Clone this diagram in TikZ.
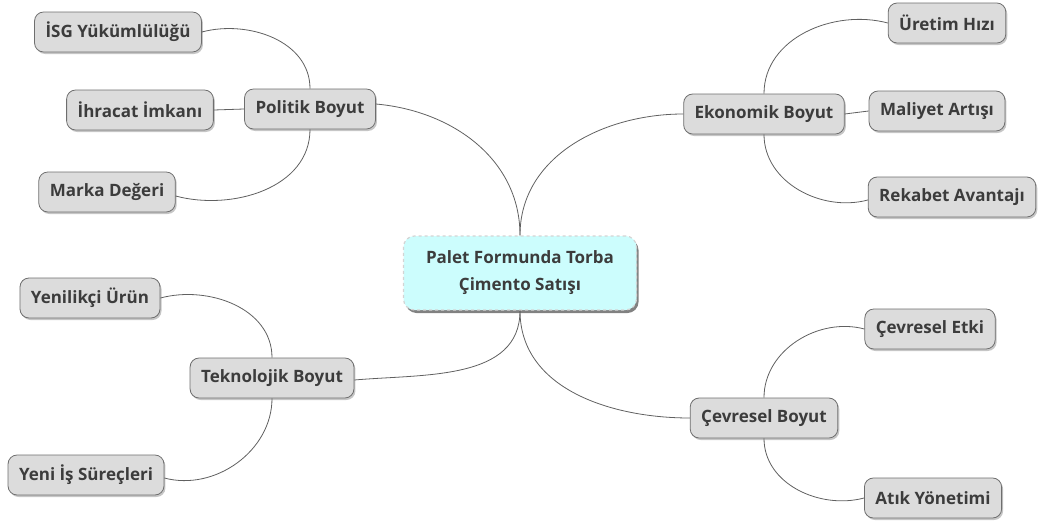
\documentclass[tikz,border=0pt]{standalone}
\usepackage{fontspec}
\setmainfont{Open Sans}
\usepackage{xcolor}
\usepackage{tikz}
\usetikzlibrary{shadows}
\definecolor{boxfill}{HTML}{DCDCDC}
\definecolor{boxline}{HTML}{6E6E6E}
\definecolor{boxtext}{HTML}{3C3C3C}
\definecolor{rootfill}{HTML}{CCFDFD}
\definecolor{rootline}{HTML}{D4D4D4}
\definecolor{wire}{HTML}{606060}

\begin{document}
\begin{tikzpicture}[
  x=1pt, y=1pt,
  font=\fontsize{17}{27}\selectfont\bfseries,
  topic/.style={draw=boxline, fill=boxfill, text=boxtext, rounded corners=9pt, line width=0.8pt,
    minimum height=40pt, inner xsep=11pt, align=center,
    drop shadow={shadow xshift=1.5pt, shadow yshift=-2pt, opacity=0.45, fill=gray}},
  root/.style={draw=rootline, dashed, fill=rootfill, text=boxtext, rounded corners=11pt, line width=1.2pt,
    minimum width=233pt, minimum height=74pt, align=center,
    drop shadow={shadow xshift=2pt, shadow yshift=-3pt, opacity=0.7, fill=black!70}},
  link/.style={draw=wire, line width=0.8pt}
]
\useasboundingbox (0,0) rectangle (1044,-522);

\node[root] (root) at (520,-273) {Palet Formunda Torba\\Çimento Satışı};

\node[topic] (pol) at (310,-109) {Politik Boyut};
\node[topic] (isg) at (118,-32) {İSG Yükümlülüğü};
\node[topic] (ihr) at (140,-110) {İhracat İmkanı};
\node[topic] (mrk) at (107,-192) {Marka Değeri};

\node[topic] (eko) at (764,-114) {Ekonomik Boyut};
\node[topic] (urt) at (947,-23) {Üretim Hızı};
\node[topic] (mal) at (937,-111) {Maliyet Artışı};
\node[topic] (rek) at (952,-197) {Rekabet Avantajı};

\node[topic] (tek) at (272,-378) {Teknolojik Boyut};
\node[topic] (yen) at (90,-298) {Yenilikçi Ürün};
\node[topic] (yis) at (86,-475) {Yeni İş Süreçleri};

\node[topic] (cev) at (764,-418) {Çevresel Boyut};
\node[topic] (cet) at (930,-329) {Çevresel Etki};
\node[topic] (atk) at (933,-498) {Atık Yönetimi};

\draw[link] (root.north) to[out=90, in=-5] ([yshift=5pt]pol.east);
\draw[link] (root.north) to[out=90, in=180] (eko.west);
\draw[link] (root.south) to[out=-90, in=5] ([yshift=-2pt]tek.east);
\draw[link] (root.south) to[out=-90, in=180] (cev.west);

\draw[link] (pol.north) to[out=90, in=15] (isg.east);
\draw[link] (pol.west) -- (ihr.east);
\draw[link] (pol.south) to[out=-90, in=-15] ([yshift=-4pt]mrk.east);

\draw[link] (eko.north) to[out=90, in=165] (urt.west);
\draw[link] (eko.east) -- (mal.west);
\draw[link] (eko.south) to[out=-90, in=195] ([yshift=-3pt]rek.west);

\draw[link] (tek.north) to[out=90, in=15] (yen.east);
\draw[link] (tek.south) to[out=-90, in=-15] ([yshift=-3pt]yis.east);

\draw[link] (cev.north) to[out=90, in=165] (cet.west);
\draw[link] (cev.south) to[out=-90, in=195] (atk.west);
\end{tikzpicture}
\end{document}
